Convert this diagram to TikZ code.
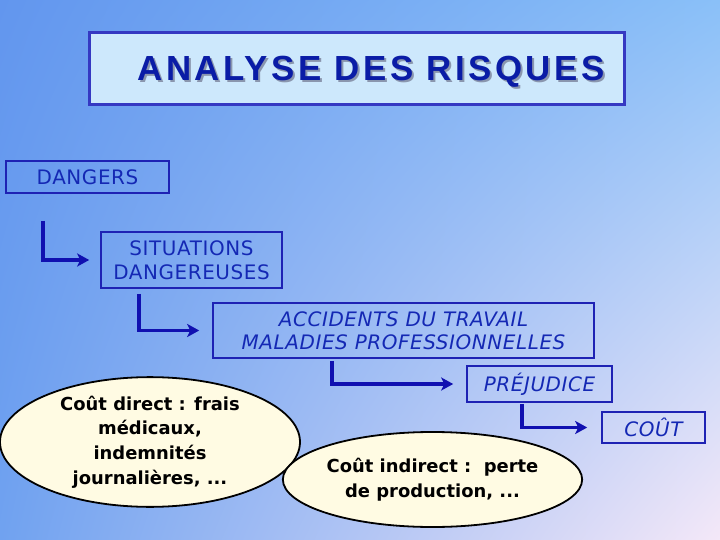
\documentclass[tikz,border=0pt]{standalone}
\usepackage{fontspec}
\setmainfont{Liberation Sans}
\newfontfamily\titlefont[LetterSpace=10]{Liberation Sans}
\newfontfamily\handfont[LetterSpace=3]{DejaVu Sans}
\newfontfamily\notefont{DejaVu Sans}
\usetikzlibrary{arrows.meta,positioning,shapes.geometric,shadings}

\definecolor{bgtl}{HTML}{6296EE}
\definecolor{bgtr}{HTML}{8AC0F8}
\definecolor{bgbl}{HTML}{70A2F0}
\definecolor{bgbr}{HTML}{F4E8F8}
\definecolor{titlefill}{HTML}{CDE8FC}
\definecolor{titleline}{HTML}{3538C2}
\definecolor{titletxt}{HTML}{0A1CA6}
\definecolor{titleshade}{HTML}{8A96AE}
\definecolor{boxblue}{HTML}{1E22B4}
\definecolor{txtblue}{HTML}{1428B4}
\definecolor{arrblue}{HTML}{1010B0}
\definecolor{bubblefill}{HTML}{FFFBE3}

\tikzset{
  titlefont/.style={inner sep=0pt, font=\titlefont\bfseries\fontsize{35}{40}\selectfont},
  stagebox/.style={draw=boxblue, line width=1.6bp, rectangle, inner sep=0pt, text=txtblue,
    align=center, font=\handfont\fontsize{20}{24}\selectfont},
  bubble/.style={draw=black, line width=1.8bp, ellipse, fill=bubblefill, inner sep=0pt,
    align=center, font=\notefont\bfseries\fontsize{18}{24.6}\selectfont},
  flow/.style={draw=arrblue, line width=3.8bp, -{Stealth[length=12bp,width=13bp,inset=3bp]}},
}

\begin{document}
\begin{tikzpicture}[x=1bp, y=-1bp]
			% Background
			\shade[upper left=bgtl, upper right=bgtr, lower left=bgbl, lower right=bgbr] (0,0) rectangle (720,540);
			\useasboundingbox (0,0) rectangle (720,540);
			
			% Title
			\node[draw=titleline, line width=3bp, fill=titlefill, minimum width=534bp, minimum height=72bp] (title) at (357,69) {};
			\node[titlefont, text=titleshade, anchor=base] (titleshadow) at (373,83) {ANALYSE DES RISQUES};
			\node[titlefont, text=titletxt, anchor=base] (titletext) at (371,81) {ANALYSE DES RISQUES};
			
			% Nodes
			\node[stagebox, minimum width=163bp, minimum height=32bp] (dangers) at (87.5,177) {DANGERS};
			\node[stagebox, minimum width=181bp, minimum height=56bp] (situations) at (191.5,260) {SITUATIONS\\DANGEREUSES};
			\node[stagebox, minimum width=381bp, minimum height=55bp, font=\handfont\itshape\fontsize{20}{23}\selectfont] (accidents) at (403.5,330.5) {ACCIDENTS DU TRAVAIL\\MALADIES PROFESSIONNELLES};
			\node[stagebox, minimum width=145bp, minimum height=36bp, font=\handfont\itshape\fontsize{20}{24}\selectfont] (prejudice) at (539.5,384) {PRÉJUDICE};
			\node[stagebox, minimum width=103bp, minimum height=31bp, font=\handfont\itshape\fontsize{20}{24}\selectfont] (cout) at (653.5,427.5) {COÛT};
			
			\node[bubble, minimum width=300bp, minimum height=124bp] (direct) at (150,442) {Coût direct : frais\\médicaux,\\indemnités\\journalières, ...};
			\node[bubble, minimum width=275bp, minimum height=95bp] (indirect) at (432.5,479.5) {Coût indirect :\ \ perte\\de production, ...};
			
			% Arrows
			\draw[flow] ([xshift=38bp,yshift=-27bp]dangers.south west) |- ([xshift=-11bp]situations.west);
			\draw[flow] ([xshift=39bp,yshift=-5bp]situations.south west) |- ([xshift=-13bp]accidents.west);
			\draw[flow] ([xshift=120bp,yshift=-2bp]accidents.south west) |- ([xshift=-13bp]prejudice.west);
			\draw[flow] ([xshift=56bp,yshift=-1bp]prejudice.south west) |- ([xshift=-14bp]cout.west);
		\end{tikzpicture}
\end{document}
